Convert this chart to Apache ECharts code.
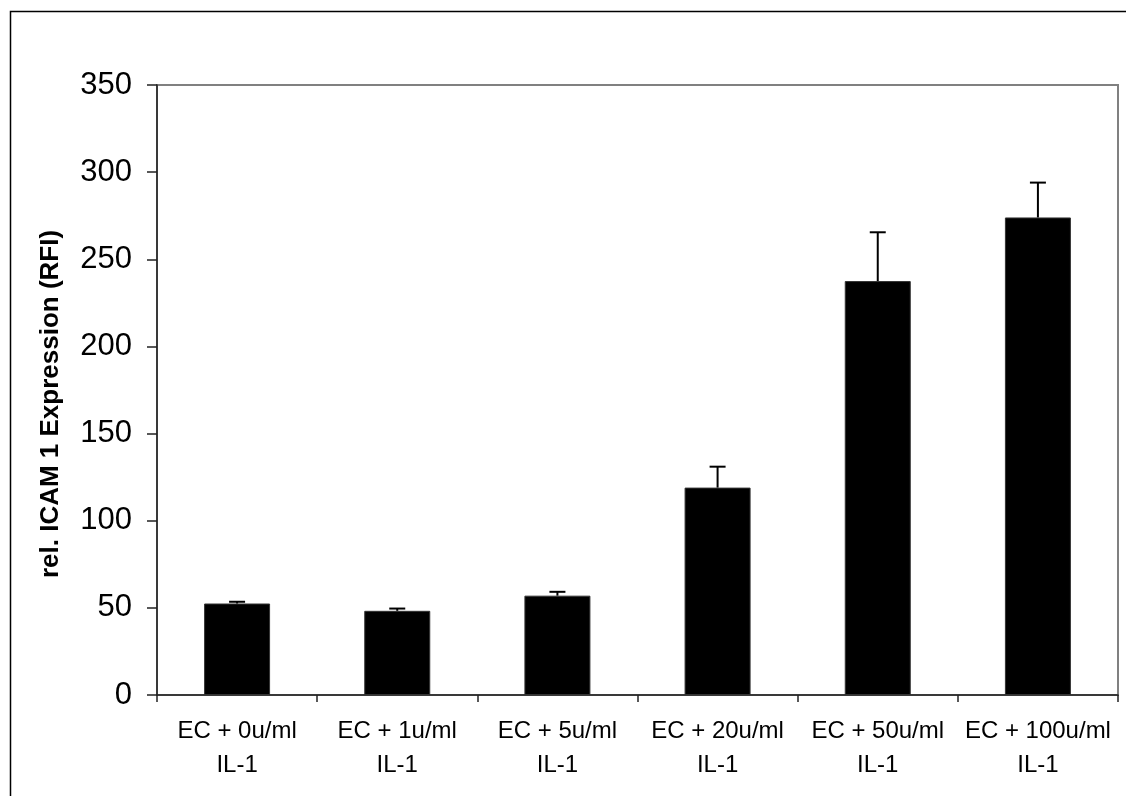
<!DOCTYPE html>
<html>
<head>
<meta charset="utf-8">
<script src="https://cdn.jsdelivr.net/npm/echarts@6/dist/echarts.min.js"></script>
<style>
  html, body { margin: 0; padding: 0; background: #fff; }
  #chart { width: 1126px; height: 796px; }
</style>
</head>
<body>
<div id="chart"></div>
<script>
// ICAM 1 expression of endothelial cells stimulated with increasing IL-1 doses
const categories = [
  'EC + 0u/ml\nIL-1',
  'EC + 1u/ml\nIL-1',
  'EC + 5u/ml\nIL-1',
  'EC + 20u/ml\nIL-1',
  'EC + 50u/ml\nIL-1',
  'EC + 100u/ml\nIL-1'
];
const meanRFI = [52.5, 48.3, 57, 119, 237.5, 274];
const errorRFI = [1, 1.3, 2.2, 12, 28, 20];
const yTicks = { min: 0, max: 350, interval: 50 };

const errorData = meanRFI.map((v, i) => [i, v, v + errorRFI[i]]);

const FONT = 'Liberation Sans, Arial, sans-serif';

const chart = echarts.init(document.getElementById('chart'));
chart.setOption({
  animation: false,
  backgroundColor: '#ffffff',
  textStyle: { fontFamily: FONT },
  graphic: [
    {
      type: 'rect',
      left: 8, top: 9,
      shape: { x: 0, y: 0, width: 1200, height: 900 },
      style: { fill: 'none', stroke: '#000', lineWidth: 1.5 },
      silent: true
    }
  ],
  grid: {
    left: 157, right: 8, top: 85, bottom: 101,
    show: true,
    borderColor: '#808080',
    borderWidth: 2,
    backgroundColor: 'transparent'
  },
  xAxis: {
    type: 'category',
    data: categories,
    axisLine: { lineStyle: { color: '#222', width: 1.5 } },
    axisTick: { show: true, length: 7, alignWithLabel: false, lineStyle: { color: '#222', width: 1.5 } },
    axisLabel: {
      color: '#000',
      fontSize: 24,
      lineHeight: 34,
      margin: 19,
      interval: 0,
      fontFamily: FONT
    },
    splitLine: { show: false }
  },
  yAxis: {
    type: 'value',
    min: yTicks.min,
    max: yTicks.max,
    interval: yTicks.interval,
    name: 'rel. ICAM 1 Expression (RFI)',
    nameLocation: 'middle',
    nameGap: 93,
    nameRotate: 90,
    nameTextStyle: {
      color: '#000',
      fontSize: 26,
      fontWeight: 'bold',
      fontFamily: FONT,
      padding: [0, 28, 0, 0]
    },
    axisLine: { show: true, lineStyle: { color: '#222', width: 1.5 } },
    axisTick: { show: true, length: 10, lineStyle: { color: '#222', width: 1.5 } },
    axisLabel: {
      color: '#000',
      fontSize: 31,
      margin: 25,
      fontFamily: FONT
    },
    splitLine: { show: false }
  },
  series: [
    {
      type: 'bar',
      data: meanRFI,
      barWidth: 66,
      itemStyle: { color: '#000', borderColor: '#333', borderWidth: 1 },
      z: 2
    },
    {
      type: 'custom',
      data: errorData,
      z: 3,
      renderItem: function (params, api) {
        const x = api.value(0);
        const base = api.coord([x, api.value(1)]);
        const top = api.coord([x, api.value(2)]);
        const half = 8;
        return {
          type: 'group',
          children: [
            {
              type: 'line',
              shape: { x1: base[0], y1: base[1], x2: top[0], y2: top[1] },
              style: { stroke: '#000', lineWidth: 2 }
            },
            {
              type: 'line',
              shape: { x1: top[0] - half, y1: top[1], x2: top[0] + half, y2: top[1] },
              style: { stroke: '#000', lineWidth: 2 }
            }
          ]
        };
      }
    }
  ]
});
</script>
</body>
</html>
